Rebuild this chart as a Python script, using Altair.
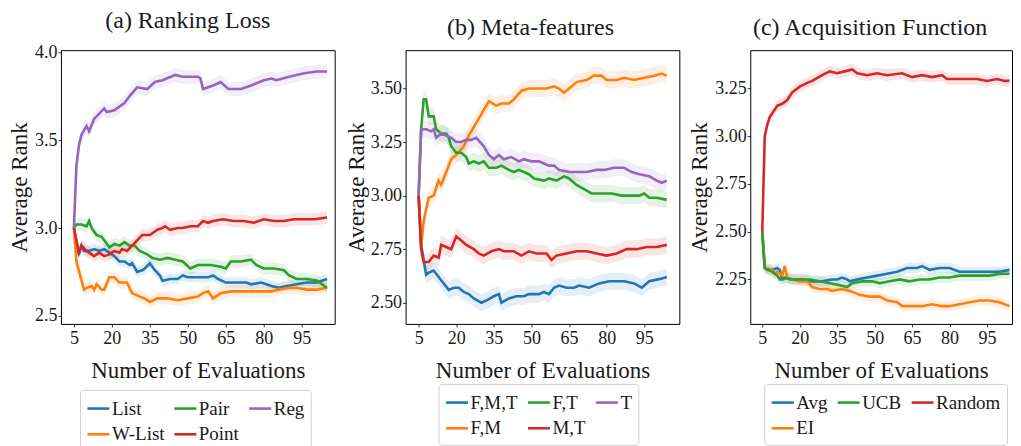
import altair as alt
import pandas as pd

FONT = "Liberation Serif"
TXT = "#1a1a1a"
HEIGHT = 274
X_TICKS = [5, 20, 35, 50, 65, 80, 95]

# ---------------- (a) Ranking Loss ----------------
A_NAMES = ["List", "Pair", "Reg", "W-List", "Point"]
A_COLORS = ["#1f77b4", "#2ca02c", "#9467bd", "#ff7f0e", "#d62728"]

A_LIST_X = [5, 6, 7, 8, 9, 11, 13, 15, 17, 19, 21, 23, 25, 27, 28, 30, 32, 33, 35, 37,
            39, 40, 43, 46, 48, 50, 54, 58, 60, 62, 65, 69, 73, 75, 79, 83, 86, 89, 93, 97,
            101, 105]
A_LIST_Y = [3.00, 2.92, 2.85, 2.90, 2.87, 2.87, 2.88, 2.87, 2.88, 2.86, 2.84, 2.81, 2.81, 2.79,
            2.80, 2.75, 2.76, 2.77, 2.80, 2.76, 2.73, 2.70, 2.71, 2.71, 2.73, 2.72, 2.72, 2.72,
            2.73, 2.71, 2.69, 2.69, 2.69, 2.68, 2.69, 2.67, 2.66, 2.67, 2.68, 2.69, 2.69, 2.71]

A_WLIST_X = [5, 6, 9, 10, 12, 13, 14, 16, 17, 19, 21, 23, 25, 26, 28, 31, 33, 35, 38, 42,
             46, 50, 54, 56, 58, 60, 63, 67, 71, 75, 79, 83, 86, 90, 93, 97, 101, 105]
A_WLIST_Y = [3.00, 2.81, 2.65, 2.66, 2.67, 2.65, 2.68, 2.65, 2.65, 2.72, 2.72, 2.69, 2.69, 2.69,
             2.63, 2.61, 2.60, 2.58, 2.60, 2.60, 2.59, 2.60, 2.61, 2.63, 2.64, 2.60, 2.63, 2.64,
             2.64, 2.64, 2.64, 2.64, 2.65, 2.66, 2.66, 2.65, 2.65, 2.66]

A_PAIR_X = [5, 6, 8, 10, 11, 12, 14, 16, 18, 19, 21, 23, 25, 27, 29, 31, 34, 36, 39, 42,
            45, 48, 51, 54, 59, 63, 65, 67, 71, 75, 77, 80, 84, 88, 90, 93, 97, 101, 105]
A_PAIR_Y = [3.00, 3.02, 3.02, 3.01, 3.04, 3.00, 2.96, 2.95, 2.91, 2.89, 2.91, 2.90, 2.92, 2.90,
            2.90, 2.87, 2.85, 2.83, 2.82, 2.83, 2.82, 2.81, 2.77, 2.79, 2.79, 2.78, 2.77, 2.81,
            2.81, 2.82, 2.79, 2.77, 2.77, 2.76, 2.73, 2.71, 2.71, 2.70, 2.66]

A_POINT_X = [5, 6, 7, 8, 10, 11, 13, 15, 17, 19, 21, 23, 24, 26, 28, 30, 32, 35, 37, 38,
             40, 41, 43, 46, 48, 51, 54, 56, 58, 60, 64, 68, 72, 76, 80, 84, 88, 92, 96, 100,
             105]
A_POINT_Y = [3.00, 2.93, 2.86, 2.90, 2.87, 2.86, 2.84, 2.86, 2.84, 2.85, 2.87, 2.86, 2.88, 2.87,
             2.90, 2.93, 2.96, 2.96, 2.98, 2.99, 3.00, 3.01, 2.99, 3.00, 3.00, 3.01, 3.01, 3.04,
             3.03, 3.04, 3.05, 3.04, 3.04, 3.03, 3.05, 3.04, 3.04, 3.05, 3.05, 3.05, 3.06]

A_REG_X = [5, 6, 7, 8, 10, 11, 13, 15, 17, 18, 21, 25, 27, 30, 34, 37, 40, 45, 48, 54,
           55, 56, 60, 63, 66, 71, 75, 80, 83, 85, 90, 96, 101, 105]
A_REG_Y = [3.00, 3.35, 3.47, 3.53, 3.58, 3.55, 3.62, 3.65, 3.68, 3.66, 3.67, 3.71, 3.75, 3.80,
           3.79, 3.83, 3.84, 3.87, 3.86, 3.86, 3.85, 3.79, 3.81, 3.83, 3.79, 3.79, 3.81, 3.84,
           3.85, 3.84, 3.86, 3.88, 3.89, 3.89]

A_BAND = {"List": 0.03, "W-List": 0.035, "Pair": 0.035, "Point": 0.035, "Reg": 0.04}

# ---------------- (b) Meta-features ----------------
B_NAMES = ["F,M,T", "F,T", "T", "F,M", "M,T"]
B_COLORS = ["#1f77b4", "#2ca02c", "#9467bd", "#ff7f0e", "#d62728"]

B_FMT_X = [5, 6, 8, 9, 11, 13, 15, 17, 19, 21, 23, 25, 27, 30, 32, 35, 37, 38, 41, 44,
           47, 49, 53, 55, 57, 59, 61, 64, 67, 69, 73, 77, 81, 87, 91, 94, 97, 101, 104]
B_FMT_Y = [3.00, 2.77, 2.63, 2.64, 2.65, 2.62, 2.59, 2.56, 2.57, 2.57, 2.55, 2.54, 2.52, 2.50,
           2.51, 2.53, 2.54, 2.50, 2.52, 2.53, 2.53, 2.54, 2.54, 2.55, 2.54, 2.57, 2.58, 2.57,
           2.57, 2.58, 2.57, 2.59, 2.60, 2.60, 2.59, 2.57, 2.60, 2.61, 2.62]

B_FM_X = [5, 6, 7, 9, 11, 13, 14, 16, 18, 20, 23, 25, 28, 31, 33, 36, 38, 41, 43, 46,
          49, 53, 56, 59, 61, 63, 65, 68, 72, 75, 78, 80, 84, 87, 91, 95, 99, 102, 104]
B_FM_Y = [3.00, 2.76, 2.88, 2.99, 3.00, 3.07, 3.05, 3.11, 3.17, 3.19, 3.23, 3.28, 3.34, 3.40,
          3.44, 3.42, 3.43, 3.43, 3.45, 3.49, 3.50, 3.50, 3.50, 3.51, 3.50, 3.48, 3.50, 3.53,
          3.54, 3.56, 3.56, 3.54, 3.54, 3.55, 3.54, 3.55, 3.56, 3.57, 3.56]

B_FT_X = [5, 6, 7, 8, 9, 11, 12, 14, 16, 17, 18, 20, 22, 24, 25, 27, 29, 31, 33, 36,
          38, 41, 43, 45, 49, 51, 55, 57, 60, 63, 65, 68, 71, 74, 78, 82, 86, 89, 93, 95,
          97, 100, 104]
B_FT_Y = [3.00, 3.31, 3.45, 3.45, 3.37, 3.37, 3.31, 3.29, 3.29, 3.27, 3.23, 3.20, 3.20, 3.18,
          3.15, 3.16, 3.15, 3.16, 3.13, 3.13, 3.14, 3.12, 3.11, 3.12, 3.10, 3.08, 3.07, 3.08,
          3.07, 3.09, 3.08, 3.05, 3.03, 3.01, 3.01, 3.01, 3.00, 3.00, 3.00, 3.01, 2.99, 2.99,
          2.98]

B_MT_X = [5, 6, 7, 9, 11, 13, 14, 16, 18, 20, 22, 24, 27, 29, 31, 34, 37, 39, 43, 46,
          49, 52, 56, 58, 60, 64, 68, 72, 76, 80, 84, 88, 92, 96, 100, 104]
B_MT_Y = [3.00, 2.75, 2.69, 2.69, 2.72, 2.71, 2.77, 2.76, 2.75, 2.81, 2.79, 2.77, 2.75, 2.73,
          2.72, 2.74, 2.75, 2.74, 2.74, 2.72, 2.74, 2.73, 2.73, 2.70, 2.72, 2.73, 2.74, 2.74,
          2.73, 2.72, 2.73, 2.75, 2.75, 2.76, 2.76, 2.77]

B_T_X = [5, 6, 8, 10, 11, 12, 14, 16, 18, 20, 22, 24, 26, 28, 31, 33, 35, 37, 39, 42,
         45, 47, 50, 53, 55, 57, 59, 61, 65, 68, 72, 76, 79, 83, 87, 90, 93, 97, 100, 102,
         104]
B_T_Y = [3.00, 3.31, 3.31, 3.30, 3.31, 3.27, 3.29, 3.28, 3.27, 3.25, 3.25, 3.26, 3.26, 3.27,
         3.23, 3.19, 3.17, 3.19, 3.17, 3.18, 3.16, 3.17, 3.16, 3.16, 3.15, 3.14, 3.14, 3.12,
         3.11, 3.11, 3.11, 3.12, 3.12, 3.13, 3.13, 3.11, 3.10, 3.09, 3.07, 3.06, 3.07]

B_BAND = {"F,M,T": 0.04, "F,M": 0.04, "F,T": 0.04, "M,T": 0.04, "T": 0.04}

# ---------------- (c) Acquisition Function ----------------
C_NAMES = ["Avg", "UCB", "Random", "EI"]
C_COLORS = ["#1f77b4", "#2ca02c", "#d62728", "#ff7f0e"]

C_AVG_X = [5, 6, 7, 9, 11, 12, 13, 15, 17, 21, 25, 29, 33, 35, 37, 39, 40, 43, 47, 51,
           55, 59, 63, 67, 69, 72, 76, 80, 84, 88, 92, 96, 100, 104]
C_AVG_Y = [2.50, 2.31, 2.30, 2.30, 2.31, 2.30, 2.25, 2.26, 2.25, 2.25, 2.24, 2.24, 2.25, 2.25,
           2.26, 2.25, 2.24, 2.25, 2.26, 2.27, 2.28, 2.29, 2.31, 2.31, 2.32, 2.30, 2.31, 2.31,
           2.29, 2.29, 2.29, 2.29, 2.29, 2.30]

C_EI_X = [5, 6, 9, 10, 11, 13, 14, 15, 17, 20, 23, 25, 28, 31, 33, 37, 40, 44, 48, 52,
          55, 59, 61, 65, 69, 73, 77, 80, 84, 88, 92, 96, 100, 104]
C_EI_Y = [2.50, 2.31, 2.30, 2.28, 2.29, 2.27, 2.32, 2.26, 2.25, 2.24, 2.24, 2.21, 2.20, 2.20,
          2.19, 2.20, 2.19, 2.17, 2.16, 2.16, 2.14, 2.13, 2.11, 2.11, 2.11, 2.12, 2.11, 2.11,
          2.12, 2.13, 2.14, 2.14, 2.13, 2.11]

C_UCB_X = [5, 6, 9, 11, 12, 14, 16, 20, 24, 28, 32, 36, 39, 41, 45, 49, 52, 56, 60, 64,
           68, 72, 76, 80, 84, 88, 92, 96, 100, 104]
C_UCB_Y = [2.50, 2.31, 2.29, 2.27, 2.25, 2.26, 2.25, 2.25, 2.25, 2.24, 2.23, 2.22, 2.21, 2.23,
           2.24, 2.24, 2.23, 2.24, 2.25, 2.24, 2.25, 2.25, 2.26, 2.26, 2.27, 2.27, 2.27, 2.27,
           2.28, 2.28]

C_RANDOM_X = [5, 6, 7, 8, 9, 11, 13, 15, 17, 20, 23, 25, 29, 32, 35, 38, 41, 43, 47, 51,
              55, 61, 65, 69, 73, 77, 79, 83, 87, 91, 95, 99, 102, 104]
C_RANDOM_Y = [2.50, 3.00, 3.06, 3.10, 3.12, 3.16, 3.17, 3.19, 3.23, 3.26, 3.28, 3.29, 3.32, 3.34,
              3.33, 3.34, 3.35, 3.33, 3.32, 3.33, 3.32, 3.33, 3.31, 3.32, 3.31, 3.32, 3.30, 3.30,
              3.30, 3.30, 3.29, 3.30, 3.29, 3.29]

C_BAND = {"Avg": 0.027, "EI": 0.027, "UCB": 0.027, "Random": 0.03}


def build(series, band):
    rows = []
    for name, xs, ys in series:
        e = band[name]
        for xv, yv in zip(xs, ys):
            rows.append({"series": name, "x": xv, "y": yv, "lo": yv - e, "hi": yv + e})
    return pd.DataFrame(rows)


DF_A = build([("List", A_LIST_X, A_LIST_Y), ("W-List", A_WLIST_X, A_WLIST_Y),
              ("Pair", A_PAIR_X, A_PAIR_Y), ("Point", A_POINT_X, A_POINT_Y),
              ("Reg", A_REG_X, A_REG_Y)], A_BAND)
DF_B = build([("F,M,T", B_FMT_X, B_FMT_Y), ("F,M", B_FM_X, B_FM_Y),
              ("F,T", B_FT_X, B_FT_Y), ("M,T", B_MT_X, B_MT_Y),
              ("T", B_T_X, B_T_Y)], B_BAND)
DF_C = build([("Avg", C_AVG_X, C_AVG_Y), ("EI", C_EI_X, C_EI_Y),
              ("UCB", C_UCB_X, C_UCB_Y), ("Random", C_RANDOM_X, C_RANDOM_Y)], C_BAND)


def panel(df, names, colors, title, xdom, ydom, yticks, yfmt, width,
          title_x, legend_x, legend_y, title_dx):
    xenc = alt.X("x:Q", scale=alt.Scale(domain=xdom, nice=False, zero=False),
                 axis=alt.Axis(values=X_TICKS, title="Number of Evaluations",
                               titlePadding=12, labelPadding=3))
    yscale = alt.Scale(domain=ydom, nice=False, zero=False)
    yaxis = alt.Axis(values=yticks, format=yfmt, title="Average Rank",
                     titleX=title_x, titleY=HEIGHT / 2, titleAngle=270,
                     titleBaseline="alphabetic", titleAlign="center", labelPadding=1)
    layers = []
    for name, col in zip(names, colors):
        layers.append(
            alt.Chart(df).transform_filter(alt.datum.series == name)
            .mark_area(color=col, fillOpacity=0.12, clip=True)
            .encode(x=xenc, y=alt.Y("lo:Q", scale=yscale, axis=yaxis), y2="hi:Q")
        )
    line = alt.Chart(df).mark_line(strokeWidth=2.6, clip=True).encode(
        x=xenc,
        y=alt.Y("y:Q", scale=yscale, axis=yaxis),
        color=alt.Color(
            "series:N", scale=alt.Scale(domain=names, range=colors),
            legend=alt.Legend(orient="none", legendX=legend_x, legendY=legend_y,
                              direction="horizontal", columns=3, title=None,
                              symbolType="stroke",
                              symbolSize=484, symbolStrokeWidth=2.6, labelOffset=1,
                              columnPadding=4, rowPadding=3, padding=6,
                              strokeColor="#d0d0d0", cornerRadius=3, fillColor="white",
                              labelFont=FONT, labelFontSize=19, labelColor=TXT)),
    )
    layers.append(line)
    return alt.layer(*layers).properties(
        width=width, height=HEIGHT,
        title=alt.TitleParams(title, font=FONT, fontSize=24, fontWeight="normal",
                              color=TXT, offset=10,
                              anchor="middle", frame="group", dx=title_dx),
    )


pa = panel(DF_A, A_NAMES, A_COLORS, "(a) Ranking Loss", [-0.1, 108], [2.455, 4.011],
           [2.5, 3.0, 3.5, 4.0], ".1f", 274, -34, 19, 340, -10)
pb = panel(DF_B, B_NAMES, B_COLORS, "(b) Meta-features", [-0.2, 109], [2.401, 3.679],
           [2.5, 2.75, 3.0, 3.25, 3.5], ".2f", 274, -42, 33, 334, -12)
pc = panel(DF_C, C_NAMES, C_COLORS, "(c) Acquisition Function", [0.2, 105], [2.017, 3.451],
           [2.25, 2.5, 2.75, 3.0, 3.25], ".2f", 262, -44, 14, 334, -11)

chart = (
    alt.hconcat(pa, pb, pc, spacing=71, bounds="flush")
    .resolve_scale(color="independent", x="independent", y="independent")
    .resolve_legend(color="independent")
    .properties(padding={"left": 0, "top": 0, "right": 0, "bottom": 0})
    .configure_view(stroke="black", strokeWidth=1)
    .configure_axis(domain=False, grid=False, tickColor="black", tickSize=3, tickWidth=0.8,
                    labelFont=FONT, labelFontSize=18, labelColor=TXT,
                    titleFont=FONT, titleFontSize=23, titleFontWeight="normal", titleColor=TXT)
)

chart.save("out.html", embed_options={"renderer": "svg", "actions": False})
